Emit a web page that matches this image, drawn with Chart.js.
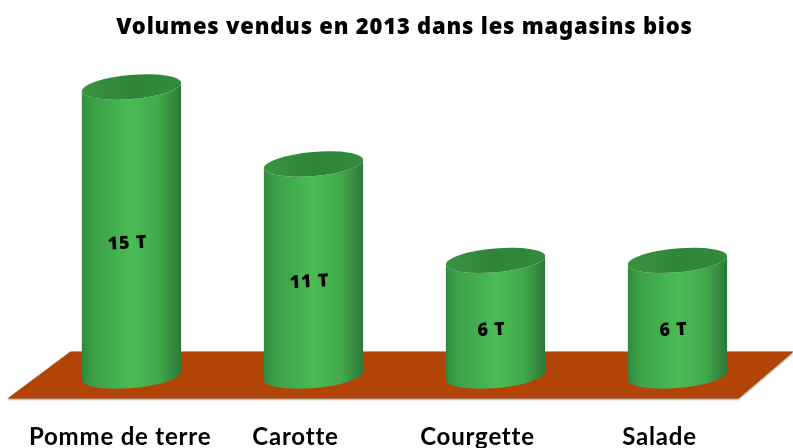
<!DOCTYPE html>
<html lang="fr">
<head>
<meta charset="utf-8">
<title>Volumes vendus en 2013 dans les magasins bios</title>
<script src="https://cdn.jsdelivr.net/npm/chart.js@4"></script>
<style>
    html, body { margin: 0; padding: 0; background: #ffffff; }
    canvas { display: block; }
</style>
</head>
<body>
<canvas id="volumesChart" width="793" height="448"></canvas>
<script>
const categories = ['Pomme de terre', 'Carotte', 'Courgette', 'Salade'];
const volumes = [15, 11, 6, 6];
const unite = 'T';

// Plateau orange sous les cylindres
const plateauPlugin = {
    id: 'plateau',
    beforeDatasetsDraw(chart) {
        const ctx = chart.ctx;
        const area = chart.chartArea;
        const base = chart.scales.y.getPixelForValue(0);
        ctx.save();
        ctx.beginPath();
        ctx.moveTo(area.left + 30, base - 24.5);
        ctx.lineTo(area.right + 25, base - 24.5);
        ctx.lineTo(area.right - 30, base + 22.5);
        ctx.lineTo(area.left - 33, base + 22.5);
        ctx.closePath();
        ctx.shadowColor = 'rgba(90, 90, 90, 0.7)';
        ctx.shadowBlur = 2;
        ctx.shadowOffsetY = 1;
        ctx.fillStyle = '#b24408';
        ctx.fill();
        ctx.restore();
    }
};

// Cylindres dessinés à partir des barres calculées par Chart.js
const cylindrePlugin = {
    id: 'cylindre',
    afterDatasetsDraw(chart) {
        const ctx = chart.ctx;
        const angle = -5 * Math.PI / 180;
        const ry = 12;
        chart.getDatasetMeta(0).data.forEach(function(bar, i) {
            const rx = bar.width / 2 + 0.3;
            const left = bar.x - bar.width / 2;
            const right = bar.x + bar.width / 2;

            const corps = ctx.createLinearGradient(left, 0, right, 0);
            corps.addColorStop(0, '#2f8a3b');
            corps.addColorStop(0.1, '#3c9f48');
            corps.addColorStop(0.5, '#4abb55');
            corps.addColorStop(0.78, '#42a94c');
            corps.addColorStop(1, '#2c7836');

            ctx.save();
            ctx.beginPath();
            ctx.ellipse(bar.x, bar.y, rx, ry, angle, Math.PI, 2 * Math.PI, true);
            ctx.ellipse(bar.x, bar.base, rx, ry, angle, 0, Math.PI);
            ctx.closePath();
            ctx.fillStyle = corps;
            ctx.fill();

            const dessus = ctx.createLinearGradient(left, 0, right, 0);
            dessus.addColorStop(0, '#389341');
            dessus.addColorStop(0.5, '#2f843a');
            dessus.addColorStop(1, '#338a3d');
            ctx.beginPath();
            ctx.ellipse(bar.x, bar.y, rx, ry, angle, 0, 2 * Math.PI);
            ctx.fillStyle = dessus;
            ctx.fill();

            // Valeur au milieu du cylindre
            ctx.translate(bar.x - 4, (bar.y + bar.base) / 2 + 12);
            ctx.rotate(-3 * Math.PI / 180);
            ctx.font = '900 18px "Noto Sans"';
            ctx.fillStyle = '#000000';
            ctx.textAlign = 'center';
            ctx.textBaseline = 'middle';
            ctx.fillText(volumes[i] + ' ' + unite, 0, 0);
            ctx.restore();
        });
    }
};

// Espacement des lettres pour les textes du graphique
const espacementPlugin = {
    id: 'espacement',
    beforeDraw(chart) {
        chart.ctx.letterSpacing = '0.8px';
    }
};

new Chart(document.getElementById('volumesChart'), {
    type: 'bar',
    data: {
        labels: categories,
        datasets: [{
            label: 'Volumes vendus',
            data: volumes,
            backgroundColor: 'transparent',
            barPercentage: 0.544,
            categoryPercentage: 1
        }]
    },
    plugins: [espacementPlugin, plateauPlugin, cylindrePlugin],
    options: {
        responsive: false,
        animation: false,
        layout: {
            padding: { left: 40.5, right: 24.5, top: 0, bottom: 0 }
        },
        plugins: {
            legend: { display: false },
            tooltip: { enabled: false },
            title: {
                display: true,
                text: 'Volumes vendus en 2013 dans les magasins bios',
                color: '#000000',
                font: { family: '"Noto Sans"', size: 22, weight: '900', lineHeight: 1.2 },
                padding: { top: 15, bottom: 45.6 }
            }
        },
        scales: {
            x: {
                grid: { display: false },
                border: { display: false },
                afterFit(scale) {
                    scale.height = 72;
                    scale.paddingLeft = 0;
                    scale.paddingRight = 0;
                },
                ticks: {
                    color: '#000000',
                    font: { family: 'Lato', size: 24, weight: '700', lineHeight: 1 },
                    padding: 41,
                    labelOffset: -18,
                    maxRotation: 0,
                    autoSkip: false,
                    // le premier libellé est un peu moins décalé que les autres
                    callback(value, index) {
                        const label = this.getLabelForValue(value);
                        return index === 0 ? '\u00a0\u00a0' + label : label;
                    }
                }
            },
            y: {
                display: false,
                min: 0,
                max: 15
            }
        }
    }
});
</script>
</body>
</html>
